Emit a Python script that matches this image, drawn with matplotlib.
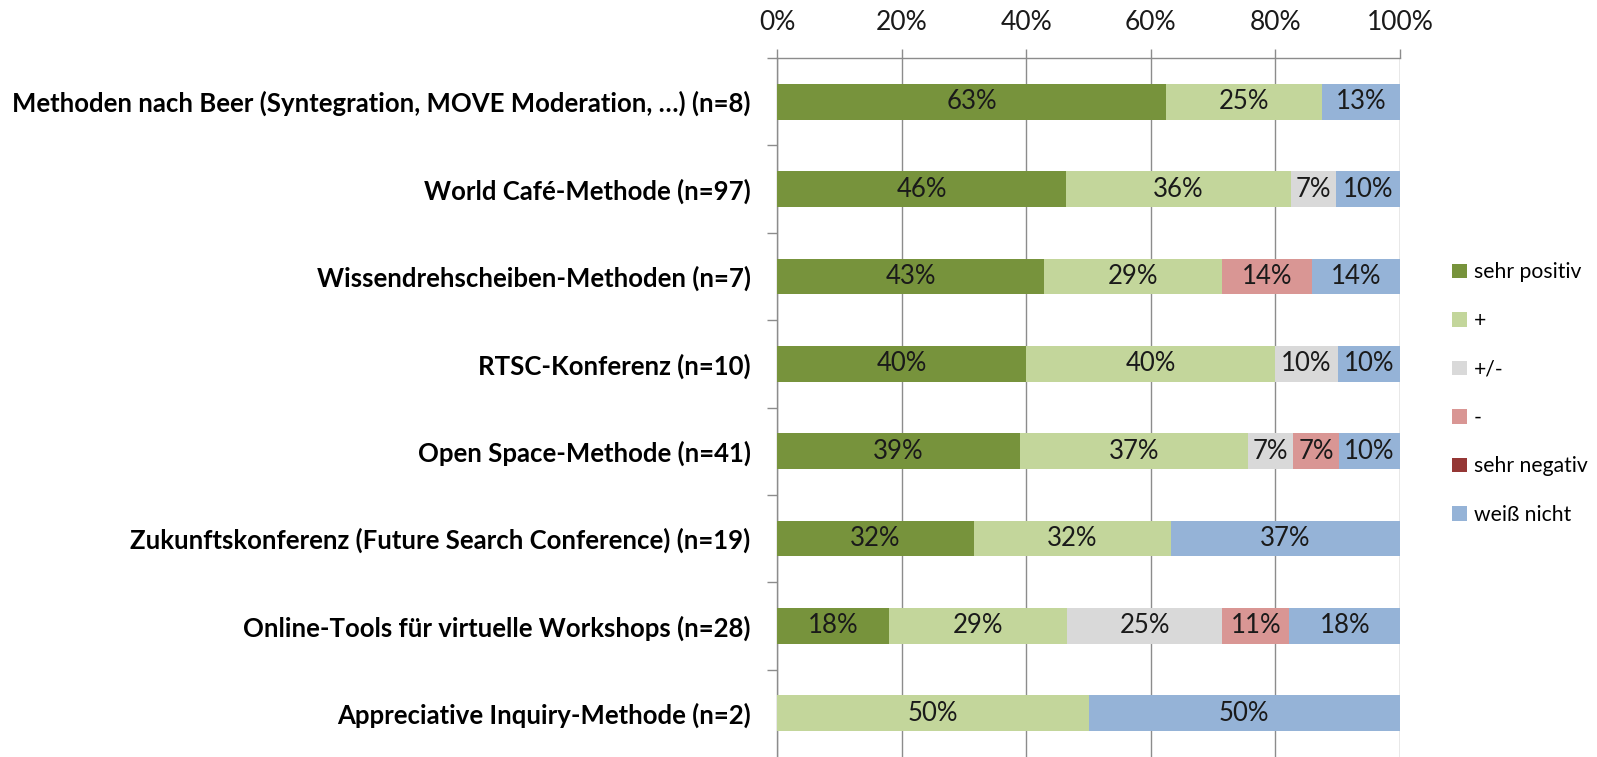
import matplotlib
matplotlib.use("Agg")
import matplotlib.pyplot as plt
import numpy as np
from matplotlib.patches import Patch

plt.rcParams['font.family'] = ['Lato', 'DejaVu Sans']

methods = [
    "Methoden nach Beer (Syntegration, MOVE Moderation, …) (n=8)",
    "World Café-Methode (n=97)",
    "Wissendrehscheiben-Methoden (n=7)",
    "RTSC-Konferenz (n=10)",
    "Open Space-Methode (n=41)",
    "Zukunftskonferenz (Future Search Conference) (n=19)",
    "Online-Tools für virtuelle Workshops (n=28)",
    "Appreciative Inquiry-Methode (n=2)",
]

series_names = ["sehr positiv", "+", "+/-", "-", "sehr negativ", "weiß nicht"]

sehr_positiv = [62.5, 46.4, 42.9, 40.0, 39.0, 31.6, 17.9, 0.0]
plus = [25.0, 36.1, 28.6, 40.0, 36.6, 31.6, 28.6, 50.0]
neutral = [0.0, 7.2, 0.0, 10.0, 7.3, 0.0, 25.0, 0.0]
minus = [0.0, 0.0, 14.3, 0.0, 7.3, 0.0, 10.7, 0.0]
sehr_negativ = [0.0, 0.0, 0.0, 0.0, 0.0, 0.0, 0.0, 0.0]
weiss_nicht = [12.5, 10.3, 14.3, 10.0, 9.8, 36.8, 17.9, 50.0]

colors = ["#77933C", "#C3D69B", "#D9D9D9", "#D99694", "#953735", "#95B3D7"]

fig = plt.figure(figsize=(15.97, 7.57), dpi=100)
ax = fig.add_axes([777/1597, 0.0, 623/1597, 1 - 58/757])

y = np.arange(len(methods))
left = np.zeros(len(methods))
for vals, name, col in zip([sehr_positiv, plus, neutral, minus, sehr_negativ, weiss_nicht],
                           series_names, colors):
    vals = np.array(vals)
    ax.barh(y, vals, left=left, height=0.41, color=col, label=name, zorder=3)
    for yi, (l, v) in enumerate(zip(left, vals)):
        if v > 0:
            ax.text(l + v / 2, yi, f"{int(v + 0.5)}%", ha="center", va="center",
                    fontsize=18.5, color="#1a1a1a", zorder=4)
    left += vals

ax.set_xlim(0, 100)
ax.set_ylim(len(methods) - 0.5, -0.5)

ax.xaxis.tick_top()
ax.set_xticks(np.arange(0, 101, 20))
ax.set_xticklabels([f"{t}%" for t in range(0, 101, 20)], fontsize=19, color="#1a1a1a")
ax.tick_params(axis="x", length=6.5, width=1, color="#8c8c8c", pad=10)
ax.grid(axis="x", color="#8c8c8c", lw=1, zorder=0)

ax.set_yticks(y)
ax.set_yticklabels(methods, fontsize=18.5, fontweight="bold", color="#000000")
ax.tick_params(axis="y", which="major", length=0, pad=19)
ax.set_yticks(np.arange(-0.5, len(methods) - 0.5, 1), minor=True)
ax.tick_params(axis="y", which="minor", length=7, width=1, color="#8c8c8c")

for s in ["right", "bottom"]:
    ax.spines[s].set_visible(False)
for s in ["top", "left"]:
    ax.spines[s].set_color("#8c8c8c")
    ax.spines[s].set_linewidth(1)

handles = [Patch(facecolor=c, edgecolor="none") for c in colors]
fig.legend(handles, series_names, loc="upper left", bbox_to_anchor=(1444/1597, 1 - 254/757),
           frameon=False, fontsize=15.2, handlelength=0.7, handleheight=0.7,
           handletextpad=0.3, labelspacing=1.35, borderaxespad=0)

fig.savefig("out.png", dpi=100)
